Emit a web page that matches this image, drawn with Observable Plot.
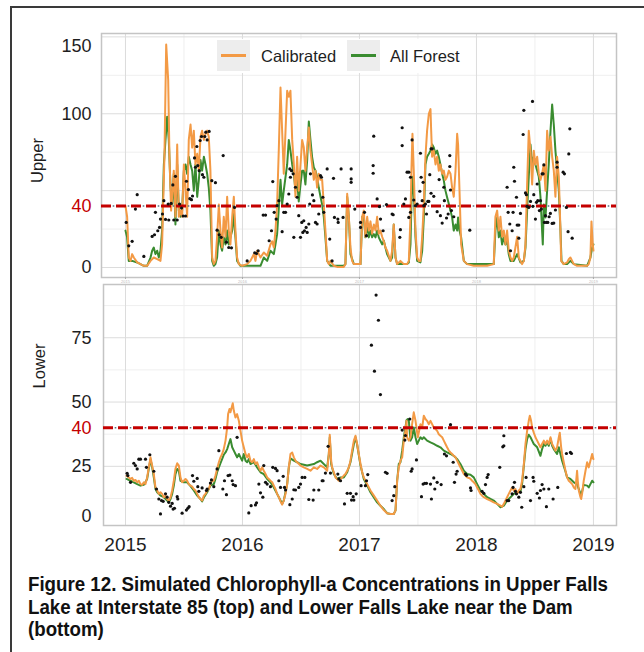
<!DOCTYPE html>
<html><head><meta charset="utf-8">
<script src="https://cdn.jsdelivr.net/npm/d3@7"></script>
<script src="https://cdn.jsdelivr.net/npm/@observablehq/plot@0.6"></script>
<style>
html,body{margin:0;padding:0;background:#fff;width:644px;height:652px;overflow:hidden;position:relative;}
#frame{position:absolute;left:10px;top:6px;width:720px;height:720px;border-left:2px solid #3a3a3a;border-top:2px solid #3a3a3a;}
#upper,#lower{position:absolute;left:0;}
#upper{top:0}
#lower{top:277px}
#legend{position:absolute;left:205px;top:39px;width:265px;height:34px;background:#fff;}
.key{position:absolute;top:1px;width:33px;height:31px;background:#ededed;}
.key i{position:absolute;left:4px;right:4px;top:14px;height:3px;}
.lab{position:absolute;top:0;line-height:34px;font-size:16.5px;font-family:"Liberation Sans",Arial,sans-serif;color:#1e1e1e;white-space:nowrap;}
#caption{position:absolute;left:28px;top:573px;white-space:nowrap;font-family:"Liberation Sans",Arial,sans-serif;font-weight:bold;font-size:20px;line-height:22.5px;color:#111;transform-origin:0 0;display:inline-block;}
</style></head>
<body>
<div id="frame"></div>
<div id="upper"></div>
<div id="lower"></div>
<div id="legend">
  <div class="key" style="left:12px"><i style="background:#F39A45"></i></div>
  <div class="lab" style="left:56px">Calibrated</div>
  <div class="key" style="left:142px"><i style="background:#3A8C30"></i></div>
  <div class="lab" style="left:185px">All Forest</div>
</div>
<div id="caption">Figure 12. Simulated Chlorophyll-a Concentrations in Upper Falls<br>Lake at Interstate 85 (top) and Lower Falls Lake near the Dam<br>(bottom)</div>
<script>
const seriesNames = ["Calibrated", "All Forest"];
const panelNames = ["Upper", "Lower"];
const threshold = 40;
const yearTicks = [2015, 2016, 2017, 2018, 2019];
const halfYearTicks = [2015.5, 2016.5, 2017.5, 2018.5];
const upperGridMajor = [0, 50, 100, 150];
const upperGridMinor = [25, 75, 125];
const upperTickLabels = [0, 100];
const upperTopLabel = [150];
const lowerGridMajor = [25, 50, 75];
const lowerGridMinor = [12.5, 37.5, 62.5, 87.5];
const lowerTickLabels = [25, 50, 75];
const lowerBottomLabel = [0];

const upperCalibrated = [
[2015.000,40],[2015.014,33],[2015.028,6.5],[2015.043,4.3],[2015.057,8.7],[2015.071,6.5],[2015.100,3.3],[2015.128,2.2],[2015.157,1.1],[2015.185,1.1],[2015.214,4.3],[2015.242,6.5],[2015.271,5.4],[2015.299,4.3],[2015.313,15],[2015.322,41],[2015.333,72],[2015.348,145],[2015.365,122],[2015.376,72],[2015.390,37],[2015.399,46],[2015.413,63],[2015.427,33],[2015.442,80],[2015.456,33],[2015.470,37],[2015.484,33],[2015.499,67],[2015.513,50],[2015.527,33],[2015.541,83],[2015.556,93],[2015.570,78],[2015.584,89],[2015.598,67],[2015.613,74],[2015.627,63],[2015.641,85],[2015.655,89],[2015.670,83],[2015.684,87],[2015.698,89],[2015.712,85],[2015.726,63],[2015.741,6.5],[2015.755,2.2],[2015.769,4.3],[2015.783,20],[2015.798,41],[2015.812,24],[2015.826,13],[2015.840,33],[2015.855,20],[2015.869,46],[2015.883,24],[2015.897,15],[2015.912,33],[2015.926,46],[2015.940,24],[2015.954,6.5],[2015.969,2.2],[2015.997,1.1],[2016.040,2.2],[2016.068,4.3],[2016.097,8.7],[2016.111,4.3],[2016.125,10.9],[2016.154,6.5],[2016.182,9.8],[2016.211,7.6],[2016.239,15],[2016.254,17],[2016.268,13],[2016.282,24],[2016.296,41],[2016.311,78],[2016.325,117],[2016.339,89],[2016.353,61],[2016.368,89],[2016.382,115],[2016.396,111],[2016.410,115],[2016.425,83],[2016.439,67],[2016.453,46],[2016.467,72],[2016.481,50],[2016.496,67],[2016.510,83],[2016.524,78],[2016.538,63],[2016.553,78],[2016.567,91],[2016.581,76],[2016.595,67],[2016.610,57],[2016.624,63],[2016.638,52],[2016.652,61],[2016.667,57],[2016.681,57],[2016.695,41],[2016.709,24],[2016.724,4.3],[2016.738,2.2],[2016.752,4.3],[2016.781,1.1],[2016.809,0.4],[2016.866,0.4],[2016.880,2.2],[2016.895,48],[2016.909,33],[2016.923,13],[2016.937,4.3],[2016.952,2.2],[2017.009,2.2],[2017.023,33],[2017.037,37],[2017.051,20],[2017.066,33],[2017.080,24],[2017.094,30],[2017.108,22],[2017.123,28],[2017.137,24],[2017.151,33],[2017.165,22],[2017.179,24],[2017.194,20],[2017.208,17],[2017.222,13],[2017.236,11],[2017.265,4.3],[2017.279,11],[2017.293,28],[2017.308,6.5],[2017.322,2.2],[2017.350,4.3],[2017.379,2.2],[2017.407,2.2],[2017.422,4.3],[2017.436,33],[2017.444,63],[2017.453,87],[2017.464,63],[2017.479,24],[2017.493,6.5],[2017.507,4.3],[2017.521,4.3],[2017.536,20],[2017.550,41],[2017.564,72],[2017.578,89],[2017.593,100],[2017.607,103],[2017.613,89],[2017.621,72],[2017.635,76],[2017.650,67],[2017.664,72],[2017.678,63],[2017.692,67],[2017.707,61],[2017.721,63],[2017.735,57],[2017.749,59],[2017.764,63],[2017.778,61],[2017.792,52],[2017.806,46],[2017.821,63],[2017.835,87],[2017.843,80],[2017.855,50],[2017.869,15],[2017.892,4.3],[2017.920,2.2],[2017.977,1.1],[2018.091,1.1],[2018.148,2.2],[2018.162,33],[2018.177,37],[2018.191,24],[2018.205,33],[2018.219,20],[2018.234,24],[2018.248,15],[2018.262,24],[2018.276,11],[2018.291,6.5],[2018.305,4.3],[2018.319,6.5],[2018.333,13],[2018.348,20],[2018.362,6.5],[2018.376,4.3],[2018.390,2.2],[2018.405,4.3],[2018.419,15],[2018.433,54],[2018.447,89],[2018.462,76],[2018.476,54],[2018.490,76],[2018.504,67],[2018.519,72],[2018.533,61],[2018.547,57],[2018.561,61],[2018.576,67],[2018.590,50],[2018.604,89],[2018.618,76],[2018.633,85],[2018.647,72],[2018.661,63],[2018.675,46],[2018.689,72],[2018.704,59],[2018.718,24],[2018.724,4.3],[2018.746,2.2],[2018.775,3.3],[2018.789,5.4],[2018.803,6.5],[2018.818,4.3],[2018.832,2.2],[2018.860,1.1],[2018.946,1.1],[2018.960,2.2],[2018.974,6.5],[2018.983,30],[2018.994,15],[2019.000,11]
];

const upperForest = [
[2015.000,24],[2015.014,19.6],[2015.028,4.3],[2015.057,4.3],[2015.100,3.3],[2015.128,2.2],[2015.157,1.1],[2015.185,1.1],[2015.214,6.5],[2015.228,10.9],[2015.242,13],[2015.256,8.7],[2015.271,10.9],[2015.285,6.5],[2015.299,10.9],[2015.313,24],[2015.328,67],[2015.342,83],[2015.356,98],[2015.370,83],[2015.385,52],[2015.399,41],[2015.413,61],[2015.427,28],[2015.442,67],[2015.456,37],[2015.470,33],[2015.484,37],[2015.499,63],[2015.513,67],[2015.527,61],[2015.541,72],[2015.556,67],[2015.570,63],[2015.584,50],[2015.598,67],[2015.613,46],[2015.627,57],[2015.641,70],[2015.655,63],[2015.670,72],[2015.684,67],[2015.698,61],[2015.712,52],[2015.726,37],[2015.741,4.3],[2015.755,1.1],[2015.769,2.2],[2015.783,6.5],[2015.798,24],[2015.812,15],[2015.826,10.9],[2015.840,19.6],[2015.855,15],[2015.869,24],[2015.883,15],[2015.897,19.6],[2015.912,24],[2015.926,34.8],[2015.940,19.6],[2015.954,4.3],[2015.983,1.1],[2016.154,1.1],[2016.182,6.5],[2016.211,4.3],[2016.239,10.9],[2016.268,8.7],[2016.282,15],[2016.296,21.7],[2016.311,39],[2016.325,57],[2016.339,41],[2016.353,50],[2016.368,59],[2016.382,67],[2016.396,83],[2016.410,76],[2016.425,67],[2016.439,61],[2016.453,50],[2016.467,57],[2016.481,43],[2016.496,54],[2016.510,63],[2016.524,63],[2016.538,54],[2016.553,70],[2016.567,95],[2016.581,83],[2016.595,72],[2016.610,65],[2016.624,63],[2016.638,59],[2016.652,52],[2016.667,46],[2016.681,41],[2016.695,33],[2016.709,19.6],[2016.724,4.3],[2016.752,1.1],[2016.866,1.1],[2016.880,2.2],[2016.895,46],[2016.909,33],[2016.923,8.7],[2016.952,2.2],[2017.009,2.2],[2017.023,33],[2017.037,33],[2017.051,19.6],[2017.066,28],[2017.080,19.6],[2017.094,24],[2017.108,19.6],[2017.123,21.7],[2017.137,19.6],[2017.151,24],[2017.165,19.6],[2017.179,17.4],[2017.194,15],[2017.208,17.4],[2017.222,13],[2017.236,8.7],[2017.265,4.3],[2017.279,6.5],[2017.293,28],[2017.308,6.5],[2017.322,2.2],[2017.407,2.2],[2017.422,3.3],[2017.436,15],[2017.444,41],[2017.453,59],[2017.464,50],[2017.479,19.6],[2017.493,4.3],[2017.521,3.3],[2017.536,10.9],[2017.550,32.6],[2017.564,67],[2017.578,72],[2017.593,74],[2017.607,76],[2017.621,80],[2017.635,78],[2017.650,74],[2017.664,76],[2017.678,72],[2017.692,67],[2017.707,61],[2017.721,56.5],[2017.735,50],[2017.749,45.7],[2017.764,41.3],[2017.778,37],[2017.792,32.6],[2017.806,24],[2017.821,28],[2017.835,24],[2017.843,32.6],[2017.855,24],[2017.869,19.6],[2017.892,4.3],[2017.920,2.2],[2018.148,2.2],[2018.162,24],[2018.177,32.6],[2018.191,19.6],[2018.205,24],[2018.219,15],[2018.234,19.6],[2018.248,15],[2018.262,17.4],[2018.276,8.7],[2018.291,4.3],[2018.319,4.3],[2018.348,8.7],[2018.376,3.3],[2018.405,4.3],[2018.419,13],[2018.433,37],[2018.447,59],[2018.462,80],[2018.476,67],[2018.490,72],[2018.504,67],[2018.519,63],[2018.533,59],[2018.547,46],[2018.561,24],[2018.567,15],[2018.576,41],[2018.590,32.6],[2018.604,50],[2018.618,67],[2018.633,89],[2018.647,106],[2018.661,93],[2018.675,76],[2018.689,63],[2018.704,50],[2018.718,24],[2018.727,4.3],[2018.746,2.2],[2018.775,2.2],[2018.803,4.3],[2018.832,2.2],[2018.946,1.1],[2018.974,6.5],[2018.989,13],[2019.000,15]
];

const upperObserved = [
[2015.006,29.3],[2015.028,14.1],[2015.057,17],[2015.085,38],[2015.100,47.4],[2015.157,7.2],[2015.228,20.2],[2015.248,21.3],[2015.256,35.9],[2015.276,23.9],[2015.291,26.1],[2015.299,31.5],[2015.316,34.8],[2015.328,43.5],[2015.342,31.3],[2015.365,41.3],[2015.370,30.9],[2015.390,41.7],[2015.405,53.7],[2015.413,30.9],[2015.427,59.3],[2015.442,30.9],[2015.462,41.3],[2015.479,38.7],[2015.493,33.5],[2015.513,33.5],[2015.521,56.1],[2015.538,50.7],[2015.550,44.8],[2015.564,44.1],[2015.573,46.5],[2015.590,71.3],[2015.598,65.2],[2015.610,78.7],[2015.618,66.3],[2015.630,63],[2015.638,82.6],[2015.650,85.2],[2015.658,60.4],[2015.670,58.7],[2015.678,85.2],[2015.687,88],[2015.698,83],[2015.715,88.5],[2015.738,56.5],[2015.769,55.2],[2015.783,24.3],[2015.801,21.3],[2015.818,19.6],[2015.835,72.8],[2015.863,16.5],[2015.883,13],[2015.906,12.8],[2015.932,39.1],
[2016.040,4.3],[2016.105,9.6],[2016.120,9.1],[2016.134,10.9],[2016.177,34.1],[2016.197,34.1],[2016.228,17.4],[2016.248,23.9],[2016.259,55.9],[2016.271,35.9],[2016.288,31.5],[2016.296,40.2],[2016.311,43.5],[2016.339,23.3],[2016.353,35.9],[2016.368,35.9],[2016.382,41.3],[2016.396,47.8],[2016.405,64.1],[2016.410,58.7],[2016.419,63],[2016.433,60.9],[2016.439,19.6],[2016.453,52.2],[2016.467,45.7],[2016.481,33.7],[2016.496,19.6],[2016.507,29.3],[2016.516,22.8],[2016.524,30.4],[2016.530,23.9],[2016.544,26.1],[2016.553,22.8],[2016.567,28.3],[2016.575,41.3],[2016.581,60.9],[2016.598,47.2],[2016.610,43.5],[2016.624,29.3],[2016.638,28.3],[2016.652,34.8],[2016.667,59.8],[2016.675,58.7],[2016.687,45.7],[2016.695,35.9],[2016.724,64.1],[2016.746,18.5],[2016.766,4.3],[2016.778,58],[2016.786,32.6],[2016.815,31.5],[2016.818,29.3],[2016.843,64.1],[2016.860,32.6],[2016.929,64.1],[2016.929,57.6],[2016.929,55.4],[2016.960,38],
[2017.009,29.3],[2017.009,26.1],[2017.043,35.9],[2017.060,20.7],[2017.117,66.3],[2017.117,61.3],[2017.122,85.4],[2017.151,44.6],[2017.171,39.6],[2017.180,31.5],[2017.202,23.9],[2017.231,40.9],[2017.279,34.8],[2017.288,34.3],[2017.345,19.6],[2017.350,24.6],[2017.365,90.9],[2017.365,79.3],[2017.379,41.3],[2017.393,44.6],[2017.407,62],[2017.422,62],[2017.422,32.6],[2017.436,58.7],[2017.436,35.9],[2017.450,83],[2017.464,43.9],[2017.479,40.2],[2017.493,41.3],[2017.516,49.6],[2017.521,74.3],[2017.527,58.7],[2017.536,43.5],[2017.544,55.4],[2017.550,40.2],[2017.564,41.3],[2017.573,34.8],[2017.584,43],[2017.593,43],[2017.601,60.4],[2017.612,48.3],[2017.612,77.2],[2017.621,77.2],[2017.635,46.3],[2017.664,36.3],[2017.681,57.2],[2017.692,33.7],[2017.707,28.9],[2017.721,52.2],[2017.726,43.5],[2017.744,32.2],[2017.758,34.8],[2017.772,72.8],[2017.772,65.7],[2017.778,50.4],[2017.786,37],[2017.806,33],[2017.943,24.3],
[2018.262,52.2],[2018.271,35.9],[2018.285,28.3],[2018.291,10.9],[2018.305,23.9],[2018.313,35.9],[2018.319,65.2],[2018.325,56.1],[2018.342,45.7],[2018.348,27.6],[2018.362,27.6],[2018.362,19.1],[2018.376,35.2],[2018.399,86.5],[2018.405,102.2],[2018.419,48.5],[2018.427,47.4],[2018.433,39.8],[2018.447,39.1],[2018.462,43],[2018.479,108],[2018.482,39.8],[2018.490,47.4],[2018.504,31.5],[2018.513,42.4],[2018.519,54.3],[2018.524,43.5],[2018.538,37],[2018.547,43.5],[2018.555,38],[2018.561,60.9],[2018.570,60.9],[2018.576,66.7],[2018.581,29.3],[2018.590,33.7],[2018.598,29.3],[2018.610,29.3],[2018.621,33],[2018.632,35.2],[2018.647,28.7],[2018.661,28.9],[2018.675,37.4],[2018.689,68.5],[2018.689,65.2],[2018.741,62],[2018.752,60.9],[2018.769,39.1],[2018.783,23.3],[2018.789,73.9],[2018.798,90.2],[2018.818,19.1]
];

const lowerCalibrated = [
[2015.009,21.4],[2015.028,20.7],[2015.043,20.1],[2015.057,20.5],[2015.071,19.4],[2015.085,19.7],[2015.100,18.8],[2015.114,19.4],[2015.128,18.1],[2015.142,17.8],[2015.157,18.8],[2015.171,18.1],[2015.185,20.7],[2015.199,24.6],[2015.214,28.5],[2015.228,25.3],[2015.242,22],[2015.256,16.8],[2015.271,15.6],[2015.285,14.3],[2015.299,14.9],[2015.313,14.3],[2015.328,13],[2015.342,13.6],[2015.356,12.3],[2015.370,11.7],[2015.385,13],[2015.399,15.6],[2015.413,19.4],[2015.427,24],[2015.442,26.2],[2015.456,25.3],[2015.470,20.7],[2015.484,18.8],[2015.499,19.4],[2015.513,20.1],[2015.527,19.4],[2015.541,18.1],[2015.556,17.5],[2015.570,17.1],[2015.584,16.2],[2015.598,15.6],[2015.613,14.3],[2015.627,13],[2015.641,12.3],[2015.655,11.7],[2015.670,13.6],[2015.684,14.3],[2015.698,15.6],[2015.712,16.2],[2015.726,18.1],[2015.741,19.4],[2015.755,19.4],[2015.769,21.4],[2015.783,24],[2015.798,26.6],[2015.812,28.5],[2015.826,29.8],[2015.840,31.7],[2015.855,35],[2015.869,40.1],[2015.877,45.3],[2015.889,47.3],[2015.897,46],[2015.917,49.5],[2015.926,46.6],[2015.940,44],[2015.954,45.3],[2015.969,42.7],[2015.983,38.8],[2015.997,35],[2016.011,32.4],[2016.026,29.8],[2016.040,28.5],[2016.054,29.8],[2016.068,27.2],[2016.083,26.6],[2016.097,27.8],[2016.111,25.9],[2016.125,26.6],[2016.140,24.6],[2016.154,23.3],[2016.168,24.6],[2016.182,23.3],[2016.197,22],[2016.211,20.7],[2016.225,20.1],[2016.239,19.4],[2016.254,18.8],[2016.268,17.5],[2016.282,16.2],[2016.296,14.3],[2016.311,13],[2016.325,11.4],[2016.339,10.1],[2016.353,11.7],[2016.368,14.3],[2016.382,18.1],[2016.396,24.6],[2016.410,29.8],[2016.425,30.4],[2016.439,28.5],[2016.453,27.2],[2016.467,26.6],[2016.496,25.3],[2016.524,24.6],[2016.553,24],[2016.581,23.3],[2016.610,24.6],[2016.638,24],[2016.667,25.3],[2016.695,24.6],[2016.724,23.3],[2016.738,29.8],[2016.746,37.3],[2016.758,27.2],[2016.766,24.6],[2016.781,22.7],[2016.795,20.7],[2016.809,20.1],[2016.823,19.4],[2016.838,20.1],[2016.852,20.7],[2016.866,21.4],[2016.880,22],[2016.895,23.3],[2016.909,24.6],[2016.923,27.2],[2016.937,31.1],[2016.952,35],[2016.966,36.9],[2016.980,33.7],[2016.994,29.8],[2017.009,25.9],[2017.023,22.7],[2017.037,20.7],[2017.066,18.1],[2017.094,15.6],[2017.123,13.6],[2017.151,11.7],[2017.179,9.7],[2017.208,8],[2017.236,6.8],[2017.265,6.5],[2017.293,6.5],[2017.308,7.8],[2017.322,19.4],[2017.336,24.6],[2017.350,27.2],[2017.365,28.5],[2017.379,35],[2017.393,38.8],[2017.402,42.7],[2017.407,36.3],[2017.422,35],[2017.436,36.3],[2017.450,41.4],[2017.464,46],[2017.479,42.7],[2017.487,40.1],[2017.499,36.3],[2017.510,38.8],[2017.521,41.4],[2017.536,40.1],[2017.550,44.7],[2017.564,43.4],[2017.578,42.7],[2017.593,41.4],[2017.607,42.7],[2017.621,41.4],[2017.635,40.1],[2017.650,39.5],[2017.664,38.8],[2017.678,37.5],[2017.692,36.9],[2017.707,36.3],[2017.721,35],[2017.735,33.7],[2017.749,32.4],[2017.764,31.1],[2017.778,30.4],[2017.792,29.8],[2017.806,29.1],[2017.821,28.5],[2017.835,27.2],[2017.849,25.9],[2017.863,24.6],[2017.878,23.3],[2017.892,22],[2017.906,21.4],[2017.920,20.7],[2017.935,20.5],[2017.949,20.1],[2017.963,19.4],[2017.977,18.8],[2017.991,18.1],[2018.006,16.8],[2018.020,15.6],[2018.034,14.3],[2018.048,13.6],[2018.063,13],[2018.091,12.3],[2018.120,11.7],[2018.148,11],[2018.177,10.4],[2018.205,9.7],[2018.219,9.3],[2018.234,10.4],[2018.248,11.7],[2018.262,13],[2018.276,14.3],[2018.291,15.6],[2018.305,16.8],[2018.319,15.6],[2018.333,16.2],[2018.348,14.3],[2018.362,15.6],[2018.376,16.2],[2018.390,19.4],[2018.405,25.9],[2018.419,33.7],[2018.433,38.8],[2018.447,42.7],[2018.456,44.7],[2018.467,42.7],[2018.476,40.1],[2018.490,38.1],[2018.504,36.3],[2018.519,35],[2018.533,33.7],[2018.547,32.4],[2018.561,33.7],[2018.576,35],[2018.590,33.7],[2018.604,35],[2018.618,33.7],[2018.633,36.3],[2018.647,33.7],[2018.661,32.4],[2018.675,31.1],[2018.689,32.4],[2018.704,36.3],[2018.712,38.1],[2018.724,32.4],[2018.732,29.8],[2018.746,26.6],[2018.761,23.3],[2018.775,20.7],[2018.789,19.4],[2018.803,18.8],[2018.818,18.1],[2018.832,16.8],[2018.846,16.2],[2018.860,23.3],[2018.866,19.4],[2018.875,15.6],[2018.889,13],[2018.895,12.3],[2018.903,14.3],[2018.917,19.4],[2018.932,23.3],[2018.946,26.6],[2018.960,24.6],[2018.974,27.2],[2018.989,29.8],[2019.000,27.8]
];

const lowerForest = [
[2015.009,20.1],[2015.043,19.4],[2015.071,18.8],[2015.100,18.1],[2015.128,17.5],[2015.157,17.8],[2015.185,20.1],[2015.199,24],[2015.214,27.8],[2015.228,24.6],[2015.242,20.7],[2015.256,16.2],[2015.271,14.9],[2015.299,13.6],[2015.328,13],[2015.356,11.7],[2015.370,11],[2015.385,12.3],[2015.399,14.3],[2015.413,17.5],[2015.427,22],[2015.442,24],[2015.456,23.3],[2015.470,19.4],[2015.499,18.8],[2015.527,18.8],[2015.556,17.3],[2015.584,15.6],[2015.613,13.6],[2015.641,12.3],[2015.655,11.4],[2015.670,12.9],[2015.698,14.9],[2015.726,17.5],[2015.755,18.1],[2015.769,20.1],[2015.783,22.7],[2015.812,26.2],[2015.840,29.5],[2015.855,30.4],[2015.869,31.7],[2015.883,33.7],[2015.897,35.6],[2015.912,32.4],[2015.926,31.1],[2015.940,29.8],[2015.954,28.5],[2015.969,29.8],[2015.983,28.5],[2015.997,27.2],[2016.011,29.8],[2016.026,27.2],[2016.040,26.6],[2016.054,27.8],[2016.068,25.9],[2016.097,26.6],[2016.125,24.6],[2016.154,22.7],[2016.182,22],[2016.211,20.1],[2016.239,18.8],[2016.268,16.8],[2016.296,14.3],[2016.325,11.7],[2016.339,10.4],[2016.353,11.7],[2016.382,18.1],[2016.396,24.6],[2016.410,28.1],[2016.439,27.2],[2016.467,26.6],[2016.496,25.9],[2016.553,25.3],[2016.610,25.9],[2016.638,26.6],[2016.667,27.2],[2016.724,24.6],[2016.738,29.8],[2016.746,36.3],[2016.758,25.9],[2016.781,22],[2016.809,20.1],[2016.838,20.7],[2016.866,20.7],[2016.895,22.7],[2016.923,26.6],[2016.952,33.7],[2016.966,36.3],[2016.980,33.4],[2017.009,25.3],[2017.037,20.1],[2017.066,17.5],[2017.094,14.9],[2017.123,12.9],[2017.151,11],[2017.179,9.7],[2017.208,8.4],[2017.236,6.8],[2017.265,6.5],[2017.293,6.5],[2017.308,7.8],[2017.322,19.4],[2017.336,25.9],[2017.350,26.6],[2017.365,31.1],[2017.379,36.3],[2017.393,40.1],[2017.402,42.9],[2017.413,43.4],[2017.422,42.7],[2017.436,35],[2017.450,36.3],[2017.464,40.1],[2017.479,36.3],[2017.493,33.7],[2017.507,35],[2017.521,36.3],[2017.536,35.6],[2017.550,36.3],[2017.578,35],[2017.607,34.3],[2017.635,33.7],[2017.664,33],[2017.692,32.4],[2017.721,31.1],[2017.749,30.4],[2017.778,29.8],[2017.806,29.1],[2017.835,27.8],[2017.863,25.9],[2017.892,23.3],[2017.920,22],[2017.949,21.7],[2017.977,20.7],[2018.006,18.1],[2018.034,15.6],[2018.063,14.3],[2018.091,13],[2018.120,12.3],[2018.148,11.7],[2018.177,10.4],[2018.205,9.1],[2018.234,9.7],[2018.262,11.7],[2018.291,13],[2018.319,14.3],[2018.348,14.9],[2018.376,15.2],[2018.390,18.1],[2018.405,25.3],[2018.419,31.7],[2018.433,35.6],[2018.447,37.3],[2018.462,36.3],[2018.476,35],[2018.490,33.7],[2018.519,32.4],[2018.547,29.1],[2018.561,31.7],[2018.576,33.7],[2018.590,33],[2018.604,34.3],[2018.618,33],[2018.633,35.6],[2018.647,33],[2018.661,31.7],[2018.689,29.8],[2018.704,32.4],[2018.732,27.2],[2018.761,23],[2018.775,20.7],[2018.803,20.1],[2018.832,18.8],[2018.860,18.1],[2018.889,14.3],[2018.903,15.2],[2018.917,17.8],[2018.946,17.5],[2018.960,16.8],[2018.974,18.1],[2018.989,19.4],[2019.000,18.8]
];

const lowerObserved = [
[2015.014,22.3],[2015.020,21.4],[2015.043,18.8],[2015.071,26.2],[2015.085,25.3],[2015.100,24],[2015.114,27.8],[2015.128,27.8],[2015.171,27.8],[2015.179,24.6],[2015.208,29.5],[2015.242,23.1],[2015.265,16.2],[2015.285,12.3],[2015.299,6.5],[2015.308,11.7],[2015.322,11.4],[2015.342,14.3],[2015.356,13],[2015.370,11],[2015.385,9.5],[2015.399,10.6],[2015.407,8.4],[2015.419,8.7],[2015.442,13.2],[2015.447,12.3],[2015.484,6.8],[2015.521,8],[2015.533,8.7],[2015.544,9.3],[2015.573,21.4],[2015.584,19.2],[2015.613,20.3],[2015.618,17.1],[2015.627,15.3],[2015.655,16.6],[2015.692,15.6],[2015.698,16.2],[2015.726,18.5],[2015.735,19.7],[2015.755,17.1],[2015.783,24],[2015.798,31.1],[2015.832,16.2],[2015.846,19.4],[2015.863,14],[2015.877,21.4],[2015.892,21.6],[2015.912,19.4],[2015.920,17.9],[2015.940,17.5],[2015.954,36.3],
[2016.054,6.9],[2016.074,9.7],[2016.111,10],[2016.120,10.8],[2016.140,18.1],[2016.154,14.7],[2016.174,13],[2016.182,25.3],[2016.197,18.8],[2016.211,18.1],[2016.239,17.1],[2016.259,24.6],[2016.282,24.2],[2016.296,23.3],[2016.311,19.4],[2016.325,16.8],[2016.348,21.1],[2016.359,16.8],[2016.368,15.8],[2016.405,10.1],[2016.425,12.3],[2016.439,15.9],[2016.453,15.8],[2016.481,16.8],[2016.496,18.1],[2016.510,20.7],[2016.533,20.7],[2016.567,12.1],[2016.604,11.9],[2016.610,15.8],[2016.652,15.8],[2016.681,19.4],[2016.689,19.4],[2016.709,22.4],[2016.732,32.8],[2016.752,22.4],[2016.815,22],[2016.823,20.1],[2016.838,19.4],[2016.872,10.4],[2016.895,14.5],[2016.923,14.5],[2016.932,11.9],[2016.946,13.2],[2016.952,11.9],[2016.972,14.3],
[2017.014,17.5],[2017.051,17.5],[2017.060,19.4],[2017.071,21.8],[2017.102,72.1],[2017.128,62],[2017.142,91.6],[2017.162,81.8],[2017.179,52.9],[2017.222,22.7],[2017.236,22.3],[2017.279,11.7],[2017.293,13.6],[2017.302,17.1],[2017.365,39.1],[2017.388,35.2],[2017.393,37],[2017.430,43.4],[2017.442,23.1],[2017.450,24],[2017.487,27.5],[2017.530,13.2],[2017.544,18.1],[2017.558,18.4],[2017.573,18.4],[2017.607,18.1],[2017.615,12.3],[2017.635,20.5],[2017.644,16.2],[2017.664,18.8],[2017.698,17.9],[2017.726,29.8],[2017.744,29.1],[2017.778,41.2],[2017.801,26.6],[2017.812,18.8],[2017.826,22],[2017.835,23.1],[2017.906,22],[2017.915,21.5],[2017.949,16.6],[2017.954,15.6],
[2018.048,15.3],[2018.063,14.5],[2018.077,17.9],[2018.091,20.7],[2018.100,21.8],[2018.199,24.6],[2018.225,32.6],[2018.234,33],[2018.234,36.9],[2018.262,11.7],[2018.276,11.7],[2018.305,14.3],[2018.313,16.8],[2018.325,18.8],[2018.333,15.3],[2018.342,14.3],[2018.362,13],[2018.376,14.9],[2018.387,9.1],[2018.405,17.1],[2018.424,20.7],[2018.462,11.7],[2018.484,20.7],[2018.490,19.2],[2018.519,14.5],[2018.538,12.7],[2018.547,15.6],[2018.561,17.9],[2018.576,16.2],[2018.598,9.3],[2018.618,16.2],[2018.655,12.3],[2018.695,16.8],[2018.769,30],[2018.803,30.4],[2018.812,30]
];

const ORANGE = "#F39A45";
const GREEN = "#3A8C30";
const RED = "#C40000";
const fontFamily = '"Liberation Sans", Arial, Helvetica, sans-serif';
const X = d => d[0], Y = d => d[1];

function panel({obs, cal, forest, yDomain, xDomain, height, marginTop, marginBottom, marginLeft, gridMajor, gridMinor, extraAxes, xAxis, label, labelDy}) {
  return Plot.plot({
    width: 644, height,
    marginLeft, marginRight: 28, marginTop, marginBottom,
    x: {domain: xDomain},
    y: {domain: yDomain},
    style: {fontFamily, background: "transparent", overflow: "visible"},
    marks: [
      Plot.ruleY(gridMinor, {stroke: "#efefef", strokeWidth: 1}),
      Plot.ruleX(halfYearTicks, {stroke: "#efefef", strokeWidth: 1}),
      Plot.ruleY(gridMajor, {stroke: "#dcdcdc", strokeWidth: 1}),
      Plot.ruleX(yearTicks, {stroke: "#dcdcdc", strokeWidth: 1}),
      Plot.frame({stroke: "#c4c4c4", strokeWidth: 1.5}),
      Plot.line(forest, {x: X, y: Y, stroke: GREEN, strokeWidth: 2, strokeLinejoin: "round"}),
      Plot.line(cal, {x: X, y: Y, stroke: ORANGE, strokeWidth: 2, strokeLinejoin: "round"}),
      Plot.ruleY([threshold], {stroke: "#5d7280", strokeWidth: 1.4, strokeDasharray: "1.6,13.4", strokeDashoffset: -11.7}),
      Plot.ruleY([threshold], {stroke: RED, strokeWidth: 3, strokeDasharray: "10,5"}),
      Plot.dot(obs, {x: X, y: Y, r: 1.6, fill: "#111", stroke: null}),
      ...extraAxes,
      xAxis,
      Plot.text([label], {text: d => d, frameAnchor: "left", dx: -64, dy: labelDy, rotate: -90, textAnchor: "middle", lineAnchor: "middle", fontSize: 16.5, fill: "#1e1e1e"})
    ]
  });
}

const upper = panel({
  obs: upperObserved, cal: upperCalibrated, forest: upperForest,
  xDomain: [2014.795, 2019.197], yDomain: [-6.5, 152.2],
  height: 290, marginTop: 33, marginBottom: 13, marginLeft: 101,
  gridMajor: upperGridMajor, gridMinor: upperGridMinor,
  extraAxes: [
    Plot.axisY({ticks: upperTickLabels, tickSize: 0, tickPadding: 10, fontSize: 18, fill: "#1e1e1e", label: null}),
    Plot.axisY({ticks: upperTopLabel, tickSize: 0, tickPadding: 10, fontSize: 18, fill: "#1e1e1e", dy: 9, label: null}),
    Plot.axisY({ticks: [threshold], tickSize: 0, tickPadding: 10, fontSize: 18, fill: RED, label: null})
  ],
  xAxis: Plot.axisX({ticks: yearTicks, tickSize: 2, tickPadding: 1, stroke: "#aaa", fontSize: 4, fill: "#bbb", tickFormat: "d", label: null}),
  label: panelNames[0], labelDy: 5
});

const lower = panel({
  obs: lowerObserved, cal: lowerCalibrated, forest: lowerForest,
  xDomain: [2014.812, 2019.197], yDomain: [2.0, 95.7],
  height: 283, marginTop: 7, marginBottom: 35, marginLeft: 103,
  gridMajor: lowerGridMajor, gridMinor: lowerGridMinor,
  extraAxes: [
    Plot.axisY({ticks: lowerTickLabels, tickSize: 0, tickPadding: 12, fontSize: 18, fill: "#1e1e1e", label: null}),
    Plot.axisY({ticks: lowerBottomLabel, tickSize: 0, tickPadding: 12, fontSize: 18, fill: "#1e1e1e", dy: -14, label: null}),
    Plot.axisY({ticks: [threshold], tickSize: 0, tickPadding: 12, fontSize: 18, fill: RED, label: null})
  ],
  xAxis: Plot.axisX({ticks: yearTicks, tickSize: 0, tickPadding: 12, fontSize: 19, fill: "#1e1e1e", tickFormat: "d", label: null}),
  label: panelNames[1], labelDy: -39
});

document.getElementById("upper").append(upper);
document.getElementById("lower").append(lower);

// fit the caption's widest line to the reference width (about 580px)
const cap = document.getElementById("caption");
const w = cap.getBoundingClientRect().width;
if (w > 0) cap.style.transform = `scaleX(${Math.min(1, 580 / w)})`;
</script>
</body></html>
